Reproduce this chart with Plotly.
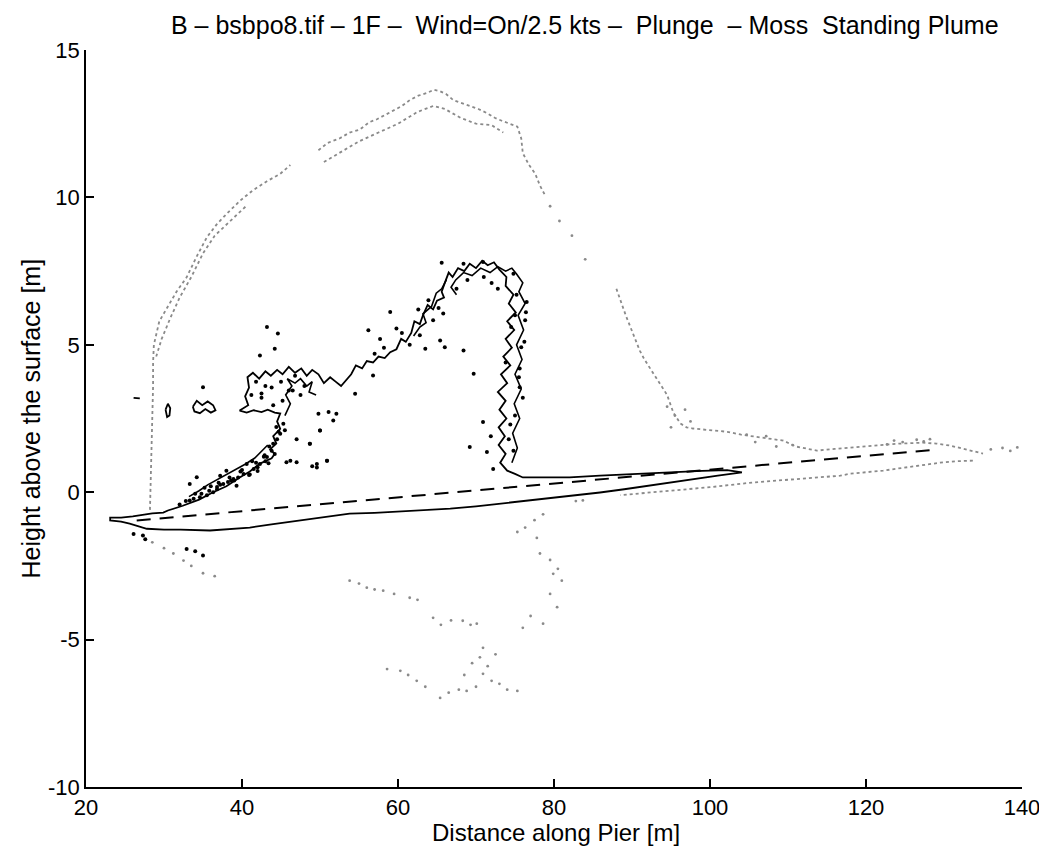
import plotly.graph_objects as go

# ---------------- data (data coordinates) ----------------
NB = "\u00a0"
title_text = ("B – bsbpo8.tif – 1F –" + NB + NB + "Wind=On/2.5 kts –" + NB + NB + "Plunge" + NB + NB
              + "– Moss" + NB + NB + "Standing Plume")
x_label = "Distance along Pier [m]"
y_label = "Height above the surface [m]"
x_ticks = [20, 40, 60, 80, 100, 120, 140]
y_ticks = [-10, -5, 0, 5, 10, 15]

# dashed mean-surface line
dash_x = [26.5, 129.2]
dash_y = [-0.96, 1.45]

# inner (black) plume contour, closed path incl. the surface wedge
plume_x = [104.1, 102.2, 99.0, 94.5, 90.0, 85.9, 82.0, 78.2, 76.0, 75.0, 74.0,
           73.1, 73.8, 72.9, 73.7, 72.9, 73.9, 73.0, 73.8, 72.8, 74.0, 73.2, 74.4, 73.5,
           74.6, 73.8, 74.9, 74.0, 75.1, 74.2, 74.8, 73.8, 73.9, 73.0, 72.3, 71.5, 70.8,
           70.0, 69.2, 68.5, 67.7, 67.0, 66.5, 66.0, 65.6, 65.9, 65.0, 64.5, 63.8, 63.2,
           62.8, 62.1, 61.7, 61.0, 60.4, 59.8, 59.0, 58.3, 57.5, 56.8, 56.0, 55.4, 54.6,
           54.0, 53.3, 52.7, 52.0, 51.3, 50.5, 49.8, 49.0, 48.3, 47.6, 46.8, 46.0, 45.2,
           44.5, 43.7, 43.0, 42.2, 41.4, 40.7, 40.9, 40.4, 40.8, 39.7, 40.6, 41.5, 42.5,
           43.3, 44.2, 44.9, 44.5, 44.9, 44.0, 44.4, 43.6, 44.2, 43.8, 43.0, 42.3, 41.0,
           39.7, 38.0, 36.3, 34.5, 32.4, 30.5, 29.9, 28.5, 27.8, 26.0, 24.5, 23.1, 23.1,
           24.5, 25.6, 27.0, 27.8, 30.0, 32.1, 35.9, 38.5, 41.0, 44.0, 47.4, 50.5, 53.8,
           57.0, 60.3, 63.5, 66.7, 70.0, 73.1, 76.3, 79.5, 82.7, 85.9, 89.0, 92.0, 95.0,
           98.0, 101.0, 104.1]
plume_y = [0.67, 0.75, 0.72, 0.67, 0.62, 0.56, 0.50, 0.50, 0.50, 0.62, 0.73,
           1.00, 1.30, 1.60, 1.90, 2.20, 2.50, 2.80, 3.10, 3.40, 3.70, 4.00, 4.30, 4.60,
           4.90, 5.20, 5.50, 5.80, 6.10, 6.40, 6.70, 7.00, 7.30, 7.55, 7.80, 7.70, 7.85,
           7.60, 7.75, 7.50, 7.60, 7.30, 7.45, 7.10, 6.80, 6.60, 6.50, 6.20, 6.35, 6.00,
           5.70, 5.80, 5.40, 5.10, 5.20, 4.85, 4.75, 4.55, 4.60, 4.40, 4.45, 4.20, 4.30,
           4.00, 3.80, 3.60, 3.75, 3.90, 3.70, 4.00, 4.15, 3.95, 4.20, 4.05, 4.25, 4.00,
           4.15, 3.95, 4.10, 3.85, 4.05, 3.90, 3.55, 3.25, 2.95, 2.77, 2.70, 2.78, 2.72,
           2.80, 2.70, 2.67, 2.40, 2.15, 1.90, 1.65, 1.45, 1.30, 1.15, 1.05, 0.97, 0.70,
           0.50, 0.20, 0.00, -0.25, -0.46, -0.62, -0.69, -0.72, -0.75, -0.82, -0.86, -0.86, -0.96,
           -1.00, -1.07, -1.18, -1.24, -1.27, -1.27, -1.30, -1.24, -1.20, -1.08, -0.96, -0.85, -0.73,
           -0.70, -0.66, -0.61, -0.56, -0.48, -0.39, -0.28, -0.18, -0.09, -0.01, 0.10, 0.22, 0.33,
           0.45, 0.56, 0.67]

# secondary (nested) black contours inside the plume edges
inner_x = [74.6, 75.3, 74.7, 75.6, 74.9, 75.8, 75.0, 75.9, 75.2, 76.1, 75.4, 76.3, 75.5,
           76.0, 75.2, 74.6, 73.8, 72.8, 71.8, 70.6, 69.5, 68.4, 67.4, 66.8, 67.5, None,
           45.5, 46.2, 45.6, 46.4, 45.8, 46.8, 47.5, 48.3, 49.0, 48.6, 49.5, None,
           33.2, 34.5, 35.6, 36.8, 38.0, 39.2, 40.4, 41.6, 42.6, 43.3, None,
           62.0, 62.8, 63.6, 63.2, 64.3, 64.9, 65.6, 66.2]
inner_y = [1.0, 1.5, 2.0, 2.5, 3.0, 3.5, 4.0, 4.5, 5.0, 5.5, 6.0, 6.4, 6.8,
           7.1, 7.4, 7.6, 7.5, 7.65, 7.45, 7.6, 7.35, 7.45, 7.2, 6.95, 6.7, None,
           2.6, 3.0, 3.3, 3.6, 3.85, 3.7, 3.85, 3.6, 3.75, 3.4, 3.3, None,
           -0.15, 0.05, 0.25, 0.42, 0.6, 0.78, 0.95, 1.15, 1.4, 1.6, None,
           5.3, 5.6, 5.75, 6.05, 6.3, 6.75, 6.9, 7.2]

# small closed black contours (separate blobs)
blob_x = [33.7, 34.2, 34.9, 35.6, 36.3, 36.6, 36.0, 35.3, 34.6, 33.9, 33.7, None,
          30.2, 30.5, 30.8, 30.7, 30.4, 30.2, None,
          26.1, 26.9]
blob_y = [2.90, 3.10, 2.95, 3.08, 2.95, 2.78, 2.70, 2.82, 2.68, 2.74, 2.90, None,
          2.80, 3.00, 2.85, 2.60, 2.55, 2.80, None,
          3.20, 3.18]

# black noise specks around the inner plume
speck_x = [43.2, 44.6, 42.3, 44.2, 35.0, 59.0, 56.2, 57.7, 59.8, 62.8, 63.5, 65.4, 68.4,
           66.0, 64.5, 65.8, 69.7, 56.8, 54.5, 49.8, 51.1, 51.7, 52.1, 50.0, 50.9, 48.7,
           46.2, 49.6, 49.0, 71.4, 72.2, 69.2, 70.9, 71.9, 74.8, 74.4, 75.6, 75.5, 75.8,
           76.3, 76.5, 74.8, 70.9, 68.4, 65.6, 63.9, 62.6, 65.2,
           33.3, 34.6, 36.3, 37.6, 38.9, 40.2, 41.5, 42.3, 43.2, 43.8, 44.0, 44.9, 44.4,
           45.3, 34.2, 33.3, 38.0, 40.6, 39.3, 37.2, 45.7, 47.0, 48.7, 50.0, 49.6, 50.9,
           35.5, 36.8, 38.2, 39.5, 41.0, 42.0, 35.8, 37.2, 38.6, 40.0, 41.3, 42.8,
           34.0, 35.2, 36.0, 37.0, 38.4, 39.8, 41.8, 42.9, 43.5, 44.5, 43.0, 44.7,
           26.1, 27.3, 27.6, 32.9, 35.0, 34.0, 47.5, 46.0, 45.5, 47.0, 42.5, 41.2,
           57.0, 58.2, 60.5, 61.5, 67.5, 68.9, 71.0, 72.8, 72.0, 75.0, 76.2,
           42.5, 43.8, 45.0, 46.5, 48.0, 44.0, 45.2, 46.8, 43.0, 41.8,
           74.2, 75.0, 76.0, 73.8, 75.6, 74.5, 76.4, 75.2,
           32.0, 32.8, 33.8, 34.8, 36.8, 39.0, 40.9, 42.0, 43.4, 44.2]
speck_y = [5.60, 5.38, 4.64, 4.87, 3.56, 6.11, 5.49, 5.20, 5.55, 5.32, 4.87, 5.15, 4.81,
           4.92, 5.83, 6.06, 4.02, 3.96, 3.34, 2.66, 2.72, 2.43, 2.66, 2.09, 1.07, 1.64,
           1.07, 0.84, 0.88, 1.36, 0.79, 1.53, 2.38, 1.90, 1.41, 2.30, 3.56, 3.90, 4.92,
           5.83, 6.45, 7.41, 7.81, 7.75, 7.78, 6.51, 6.20, 6.25,
           -0.28, -0.17, 0.00, 0.28, 0.45, 0.62, 0.79, 0.96, 1.19, 1.41, 1.64, 1.98, 2.21,
           2.32, 0.51, 0.28, 0.73, 0.96, 0.22, 0.56, 1.02, 1.02, 1.64, 2.09, 0.96, 1.07,
           -0.10, 0.10, 0.35, 0.50, 0.60, 0.85, 0.05, 0.25, 0.40, 0.75, 1.05, 1.20,
           -0.05, 0.15, 0.20, 0.32, 0.50, 0.70, 1.00, 1.25, 1.55, 1.80, 1.05, 2.05,
           -1.42, -1.47, -1.60, -1.93, -2.15, -2.00, 3.30, 3.45, 2.10, 1.80, 3.35, 3.30,
           4.70, 4.90, 5.40, 5.00, 6.90, 7.20, 7.30, 6.90, 7.10, 6.00, 5.10,
           3.20, 3.55, 3.75, 3.45, 3.60, 2.95, 3.10, 3.95, 3.60, 3.75,
           1.80, 2.60, 3.20, 4.40, 4.20, 5.60, 6.10, 6.70,
           -0.42, -0.30, -0.22, -0.05, 0.18, 0.40, 0.58, 0.72, 0.98, 1.30]

# outer (grey) plume: dotted arches
arch_x = [28.2, 28.3, 28.4, 28.5, 28.5, 28.6, 28.6, 28.7, 29.4, 30.4, 31.6, 32.9, 34.2, 35.5,
          36.8, 38.1, 39.8, 41.4, 43.2, 44.9, 46.2, None,
          29.0, 29.7, 30.8, 32.0, 33.5, 35.0, 36.5, 38.5, 40.5, None,
          49.8, 51.0, 52.5, 53.8, 55.1, 56.3, 57.3, 58.4, 59.4, 60.5, 61.5, 62.6, 63.7, 64.6,
          65.4, 66.2, 67.1, 68.2, 69.2, 70.3, 71.4, 72.4, 73.3, 74.3, 75.3, 75.8, 76.0, 76.8,
          77.6, 78.2, 78.8, None,
          50.5, 52.5, 55.0, 57.5, 60.0, 62.5, 64.5, 66.0, 68.0, 70.0, 72.0, 73.5, None,
          88.0, 88.5, 89.2, 89.8, 90.4, 91.0, 91.6, 92.3, 93.0, 93.8, 94.5, 94.9, 95.3, 96.2,
          97.0, 97.8, 100.0, 102.2, 104.0, 106.4, 108.0, 109.4, 111.0, 113.7, 116.0, 118.0,
          121.0, 124.4, 127.3, 129.0, 130.8, 133.0, 135.0, None,
          133.7, 131.5, 129.5, 126.5, 124.0, 122.2, 120.0, 118.0, 116.7, 113.7, 111.5, 108.0,
          105.5, 100.0, 94.5, 91.0, 88.5]
arch_y = [-0.6, 0.3, 1.2, 2.0, 2.8, 3.6, 4.4, 5.0, 5.8, 6.27, 6.8, 7.29, 8.0, 8.65,
          9.1, 9.46, 9.9, 10.24, 10.55, 10.8, 11.1, None,
          4.6, 5.2, 5.9, 6.6, 7.3, 8.1, 8.7, 9.2, 9.7, None,
          11.6, 11.85, 12.0, 12.2, 12.3, 12.55, 12.65, 12.8, 12.96, 13.1, 13.3, 13.45, 13.54, 13.65,
          13.6, 13.5, 13.3, 13.2, 13.1, 13.0, 12.86, 12.7, 12.6, 12.5, 12.4, 12.0, 11.5, 11.1,
          10.8, 10.4, 10.1, None,
          11.2, 11.5, 11.9, 12.2, 12.5, 12.9, 13.1, 13.0, 12.7, 12.5, 12.45, 12.2, None,
          6.9, 6.5, 6.0, 5.6, 5.2, 4.8, 4.5, 4.2, 3.9, 3.6, 3.3, 3.0, 2.7, 2.33,
          2.2, 2.16, 2.1, 2.05, 1.95, 1.85, 1.8, 1.75, 1.55, 1.41, 1.47, 1.51,
          1.58, 1.65, 1.68, 1.65, 1.58, 1.45, 1.31, None,
          1.07, 1.05, 1.0, 0.9, 0.8, 0.73, 0.68, 0.63, 0.56, 0.5, 0.46, 0.4,
          0.33, 0.17, 0.05, -0.05, -0.1]

# outer (grey) plume: scattered dots
gdot_x = [79.5, 80.7, 82.3, 84.0, 136.0, 137.5, 139.4, 138.5,
          94.5, 95.5, 96.8, 97.5, 95.0, 104.7, 105.8, 107.2, 108.5, 110.6, 122.7, 123.6,
          124.7, 126.5, 127.4, 128.2,
          27.3, 28.5, 30.0, 31.2, 32.5, 33.5, 35.0, 36.5,
          53.8, 55.0, 56.0, 57.0, 58.1, 59.5, 61.5, 62.5,
          64.5, 65.5, 66.8, 68.3, 69.3, 70.1,
          58.6, 60.3, 61.3, 62.4, 63.5, 65.4, 66.5, 67.8, 68.8, 70.0, 70.9, 71.5, 70.9, 70.5,
          72.0, 73.0, 74.0, 75.3, 69.5, 68.5, 72.5,
          83.7, 82.8, 78.6, 77.5, 76.3, 75.3, 77.8, 78.2, 79.5, 80.5, 79.9, 81.0, 79.5, 80.4,
          78.6, 76.0, 77.0]
gdot_y = [9.7, 9.2, 8.7, 7.9, 1.45, 1.50, 1.52, 1.40,
          2.9, 2.6, 2.8, 2.4, 2.2, 1.95, 1.70, 1.90, 1.55, 1.60, 1.62, 1.75,
          1.70, 1.78, 1.72, 1.80,
          -1.47, -1.70, -1.90, -2.08, -2.32, -2.50, -2.75, -2.85,
          -3.00, -3.10, -3.24, -3.30, -3.34, -3.45, -3.58, -3.65,
          -4.26, -4.50, -4.35, -4.36, -4.50, -4.46,
          -6.00, -6.06, -6.20, -6.40, -6.60, -6.98, -6.80, -6.70, -6.74, -6.60, -6.16, -5.90, -5.28, -5.60,
          -6.40, -6.50, -6.70, -6.74, -5.80, -6.20, -5.50,
          -0.28, -0.30, -0.75, -0.95, -1.20, -1.35, -1.55, -2.08, -2.30, -2.60, -2.77, -3.00, -3.45, -3.90,
          -4.46, -4.60, -4.20]

# ---------------- figure ----------------
fig = go.Figure()

fig.add_trace(go.Scatter(x=arch_x, y=arch_y, mode="lines", connectgaps=False,
                         line=dict(color="#8a8a8a", width=1.8, dash="dot"),
                         hoverinfo="skip", showlegend=False))
fig.add_trace(go.Scatter(x=gdot_x, y=gdot_y, mode="markers",
                         marker=dict(color="#8a8a8a", size=2.8),
                         hoverinfo="skip", showlegend=False))
fig.add_trace(go.Scatter(x=plume_x, y=plume_y, mode="lines",
                         line=dict(color="black", width=1.8),
                         hoverinfo="skip", showlegend=False))
fig.add_trace(go.Scatter(x=inner_x, y=inner_y, mode="lines", connectgaps=False,
                         line=dict(color="black", width=1.6),
                         hoverinfo="skip", showlegend=False))
fig.add_trace(go.Scatter(x=blob_x, y=blob_y, mode="lines", connectgaps=False,
                         line=dict(color="black", width=1.8),
                         hoverinfo="skip", showlegend=False))
fig.add_trace(go.Scatter(x=speck_x, y=speck_y, mode="markers",
                         marker=dict(color="black", size=4),
                         hoverinfo="skip", showlegend=False))
fig.add_trace(go.Scatter(x=dash_x, y=dash_y, mode="lines",
                         line=dict(color="black", width=2, dash="14px,9px"),
                         hoverinfo="skip", showlegend=False))

font_family = "Liberation Sans, Arial, sans-serif"
FS_TICK = 22
FS_TEXT = 24

# The page body adds an 8px offset; the plot area targets x 86..1022, y 50..787 in the window.
W, H = 1039, 846
L, R, T, B = 78, 25, 42, 67
PW, PH = W - L - R, H - T - B


def px_x(page_x):
    return (page_x - 86) / PW


def px_y(page_y):
    return (787 - page_y) / PH


fig.update_layout(
    width=W, height=H,
    margin=dict(l=L, r=R, t=T, b=B, autoexpand=False),
    paper_bgcolor="white", plot_bgcolor="white",
    font=dict(family=font_family, size=FS_TEXT, color="black"),
    showlegend=False,
    annotations=[
        dict(text=title_text, xref="paper", yref="paper", x=px_x(585), y=px_y(25),
             xanchor="center", yanchor="middle", showarrow=False, font=dict(size=FS_TEXT + 1)),
        dict(text=x_label, xref="paper", yref="paper", x=px_x(556), y=px_y(832),
             xanchor="center", yanchor="middle", showarrow=False, font=dict(size=FS_TEXT)),
        dict(text=y_label, xref="paper", yref="paper", x=px_x(30), y=0.5,
             xanchor="center", yanchor="middle", textangle=-90, showarrow=False,
             font=dict(size=FS_TEXT + 1)),
    ],
)
fig.update_xaxes(range=[20, 140], tickvals=x_ticks, ticktext=[str(v) for v in x_ticks],
                 showgrid=False, zeroline=False, showline=True, linecolor="black",
                 linewidth=1.5, ticks="inside", ticklen=8, tickwidth=1.5, tickcolor="black",
                 automargin=False, tickfont=dict(size=FS_TICK))
fig.update_yaxes(range=[-10, 15], tickvals=y_ticks, ticktext=[str(v) for v in y_ticks],
                 showgrid=False, zeroline=False, showline=True, linecolor="black",
                 linewidth=1.5, ticks="inside", ticklen=8, tickwidth=1.5, tickcolor="black",
                 automargin=False, tickfont=dict(size=FS_TICK))

fig.write_html("out.html")
